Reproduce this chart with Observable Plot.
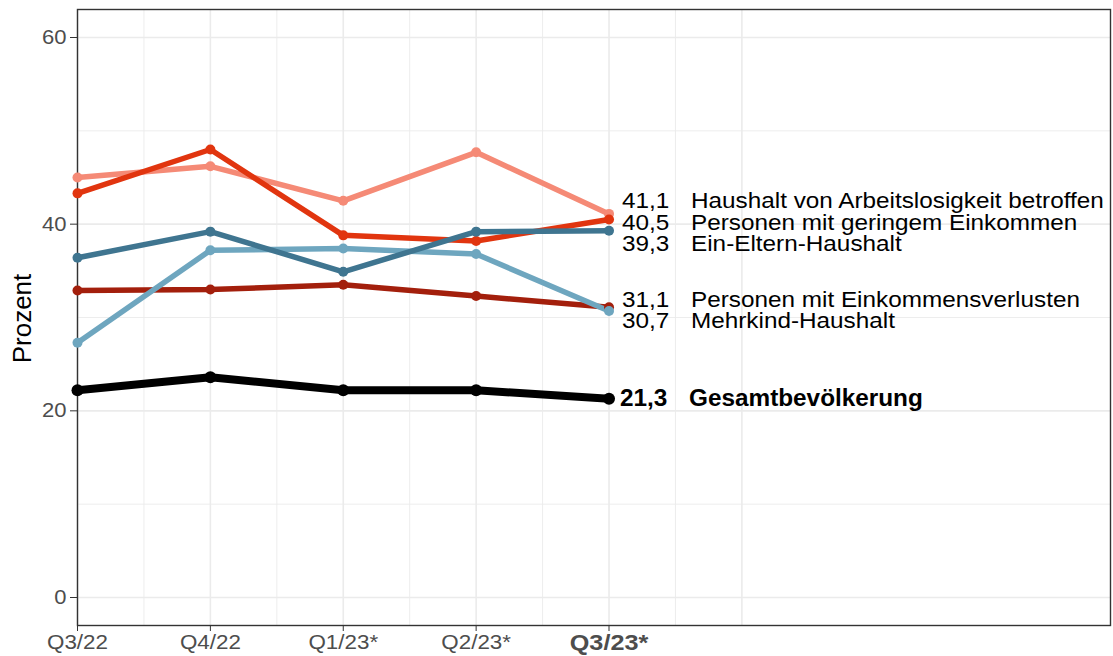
<!DOCTYPE html>
<html>
<head>
<meta charset="utf-8">
<script src="https://cdn.jsdelivr.net/npm/d3@7"></script>
<script src="https://cdn.jsdelivr.net/npm/@observablehq/plot@0.6"></script>
<style>
  html, body { margin: 0; padding: 0; background: #fff; }
  #chart { width: 1113px; height: 656px; }
</style>
</head>
<body>
<div id="chart"></div>
<script>
// ---- Data ----
const quarters = ["Q3/22", "Q4/22", "Q1/23*", "Q2/23*", "Q3/23*"];
const seriesNames = [
  "Haushalt von Arbeitslosigkeit betroffen",
  "Personen mit geringem Einkommen",
  "Personen mit Einkommensverlusten",
  "Mehrkind-Haushalt",
  "Ein-Eltern-Haushalt",
  "Gesamtbevölkerung"
];
const arbeitslos   = [45.0, 46.2, 42.5, 47.7, 41.1];
const geringes     = [43.3, 48.0, 38.8, 38.2, 40.5];
const verluste     = [32.9, 33.0, 33.5, 32.3, 31.1];
const mehrkind     = [27.3, 37.2, 37.4, 36.8, 30.7];
const einEltern    = [36.4, 39.2, 34.9, 39.2, 39.3];
const gesamt       = [22.2, 23.6, 22.2, 22.2, 21.3];
const seriesColors = ["#F58A76", "#E1350F", "#A31F0C", "#6EA6BF", "#3F7590", "#000000"];
const yTicks = [0, 20, 40, 60];

// ---- Build tidy table ----
const seriesValues = [arbeitslos, geringes, verluste, mehrkind, einEltern, gesamt];
const rows = [];
seriesNames.forEach((name, s) => {
  seriesValues[s].forEach((v, i) => rows.push({series: name, q: i + 1, value: v}));
});
const totalName = "Gesamtbevölkerung";
const colorRows = rows.filter(d => d.series !== totalName);
const totalRows = rows.filter(d => d.series === totalName);

// end labels with simple dodge (in data units)
const last = quarters.length;
const ends = seriesNames.map((name, s) => ({series: name, q: last, value: seriesValues[s][last - 1]}));
function dodge(items, gap) {
  const sorted = items.slice().sort((a, b) => a.value - b.value);
  let clusters = sorted.map(it => ({members: [it]}));
  const place = c => {
    const mean = d3.mean(c.members, m => m.value);
    c.start = mean - (c.members.length - 1) * gap / 2;
    c.end = c.start + (c.members.length - 1) * gap;
  };
  clusters.forEach(place);
  let merged = true;
  while (merged) {
    merged = false;
    for (let k = 0; k < clusters.length - 1; k++) {
      if (clusters[k + 1].start < clusters[k].end + gap) {
        clusters[k].members = clusters[k].members.concat(clusters[k + 1].members);
        clusters.splice(k + 1, 1);
        place(clusters[k]);
        merged = true;
        break;
      }
    }
  }
  clusters.forEach(c => c.members.forEach((m, j) => { m.ly = c.start + j * gap; }));
  return items;
}
dodge(ends, 2.3);
const fmt = v => v.toFixed(1).replace(".", ",");
const regEnds = ends.filter(d => d.series !== totalName);
const boldEnds = ends.filter(d => d.series === totalName);

const grid = "#EBEBEB";
const chart = Plot.plot({
  width: 1113,
  height: 656,
  marginLeft: 77,
  marginRight: 3,
  marginTop: 9,
  marginBottom: 31,
  style: {fontFamily: "'Liberation Sans', Arial, sans-serif", color: "#4D4D4D", background: "#fff"},
  x: {domain: [1, 8.774]},
  y: {domain: [-3, 63]},
  color: {domain: seriesNames, range: seriesColors},
  marks: [
    Plot.gridY([10, 30, 50], {stroke: grid, strokeOpacity: 1, strokeWidth: 0.9}),
    Plot.gridX([1.5, 2.5, 3.5, 4.5, 5.5], {stroke: grid, strokeOpacity: 1, strokeWidth: 0.9}),
    Plot.gridY(yTicks, {stroke: grid, strokeOpacity: 1, strokeWidth: 1.6}),
    Plot.gridX([1, 2, 3, 4, 5, 6], {stroke: grid, strokeOpacity: 1, strokeWidth: 1.6}),
    Plot.frame({stroke: "#333333", strokeWidth: 1.4}),
    Plot.axisY(yTicks, {tickSize: 7, tickPadding: 4, fontSize: 20, label: null, stroke: "#333333"}),
    Plot.axisX([1, 2, 3, 4, 5], {tickSize: 6, tickPadding: 3, fontSize: 20, label: null,
      tickFormat: d => quarters[d - 1], stroke: "#333333"}),
    Plot.text(["Prozent"], {frameAnchor: "left", textAnchor: "middle", rotate: -90, dx: -55, dy: 1, fontSize: 26, fill: "#000"}),
    Plot.line(colorRows, {x: "q", y: "value", z: "series", stroke: "series", strokeWidth: 5.5, strokeLinejoin: "round", strokeLinecap: "butt"}),
    Plot.line(totalRows, {x: "q", y: "value", stroke: "#000", strokeWidth: 8, strokeLinejoin: "round"}),
    Plot.dot(colorRows, {x: "q", y: "value", fill: "series", r: 5}),
    Plot.dot(totalRows, {x: "q", y: "value", fill: "#000", r: 6}),
    Plot.text(regEnds, {x: "q", y: "ly", text: d => fmt(d.value), dx: 13, dy: 1.5, textAnchor: "start", fontSize: 21.5, fill: "#000"}),
    Plot.text(regEnds, {x: "q", y: "ly", text: "series", dx: 82, dy: 1.5, textAnchor: "start", fontSize: 21.5, fill: "#000"}),
    Plot.text(boldEnds, {x: "q", y: "ly", text: d => fmt(d.value), dx: 11, textAnchor: "start", fontSize: 23.5, fontWeight: "bold", fill: "#000"}),
    Plot.text(boldEnds, {x: "q", y: "ly", text: "series", dx: 80, textAnchor: "start", fontSize: 23.5, fontWeight: "bold", fill: "#000"})
  ]
});
document.getElementById("chart").appendChild(chart);

// widen text horizontally to match the reference typeface proportions
function stretch(nodes, factor) {
  nodes.forEach(t => {
    const w = t.getComputedTextLength();
    t.setAttribute("textLength", (w * factor).toFixed(1));
    t.setAttribute("lengthAdjust", "spacingAndGlyphs");
  });
}
// bold last x tick label
const xLabels = Array.from(chart.querySelectorAll('g[aria-label="x-axis tick label"] text'));
if (xLabels.length) {
  const lastLab = xLabels[xLabels.length - 1];
  lastLab.setAttribute("font-weight", "bold");
  lastLab.setAttribute("font-size", "22.5");
  lastLab.style.fontWeight = "bold";
  lastLab.style.fontSize = "22.5px";
}
stretch(xLabels, 1.12);
stretch(Array.from(chart.querySelectorAll('g[aria-label="y-axis tick label"] text')), 1.1);
const textGroups = chart.querySelectorAll('g[aria-label="text"]');
[1, 2].forEach(k => { if (textGroups[k]) stretch(Array.from(textGroups[k].querySelectorAll("text")), 1.13); });
[3, 4].forEach(k => { if (textGroups[k]) stretch(Array.from(textGroups[k].querySelectorAll("text")), 1.035); });
</script>
</body>
</html>
